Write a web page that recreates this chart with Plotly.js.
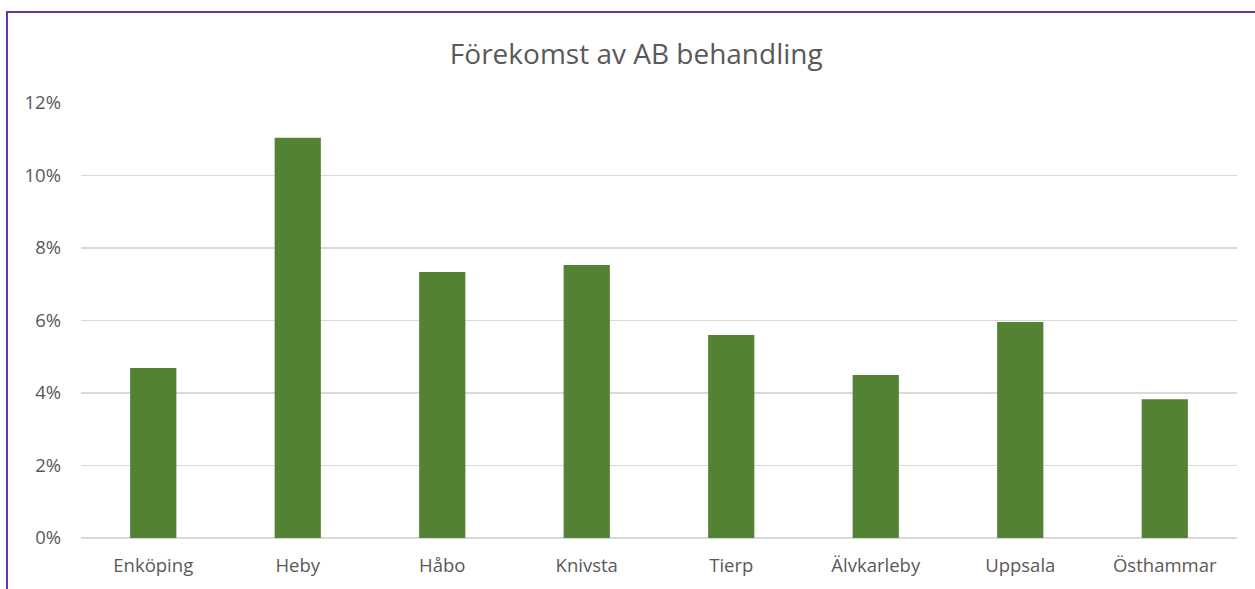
<!DOCTYPE html>
<html>
<head>
<meta charset="utf-8">
<script src="https://cdn.plot.ly/plotly-3.0.1.min.js"></script>
<style>
  body { margin: 0; background: #fff; }
  #grafico { position: absolute; left: 0; top: 0; width: 1255px; height: 589px; }
  #ram {
    position: absolute; left: 6px; top: 11px; width: 1260px; height: 600px;
    border-left: 2px solid #7030A0; border-top: 2px solid #7030A0;
    pointer-events: none;
  }
</style>
</head>
<body>
<div id="grafico"></div>
<div id="ram"></div>
<script>
const kommuner = ["Enköping", "Heby", "Håbo", "Knivsta", "Tierp", "Älvkarleby", "Uppsala", "Östhammar"];
const andelAB = [0.0469, 0.1104, 0.0734, 0.0753, 0.0560, 0.0450, 0.0596, 0.0383];
const titel = "Förekomst av AB behandling";

const staplar = {
  type: 'bar',
  x: kommuner,
  y: andelAB,
  marker: { color: '#548235' },
  hoverinfo: 'x+y'
};

const layout = {
  width: 1255,
  height: 589,
  margin: { l: 81, r: 18, t: 103, b: 51 },
  paper_bgcolor: '#fff',
  plot_bgcolor: '#fff',
  font: { family: '"Open Sans", sans-serif', color: '#595959', size: 18.5 },
  title: {
    text: titel,
    font: { size: 28, color: '#595959' },
    x: 0.507, xanchor: 'center',
    y: 0.908, yanchor: 'middle'
  },
  bargap: 0.68,
  showlegend: false,
  xaxis: {
    showline: false,
    showgrid: false,
    ticks: '',
    ticklabelstandoff: 14
  },
  yaxis: {
    range: [0, 0.12],
    dtick: 0.02,
    tickformat: '.0%',
    gridcolor: '#D9D9D9',
    gridwidth: 1.5,
    zeroline: true,
    zerolinecolor: '#D9D9D9',
    zerolinewidth: 1.5,
    showline: false,
    ticks: '',
    ticklabelstandoff: 19
  }
};

Plotly.newPlot('grafico', [staplar], layout, { displayModeBar: false, staticPlot: true });
</script>
</body>
</html>
